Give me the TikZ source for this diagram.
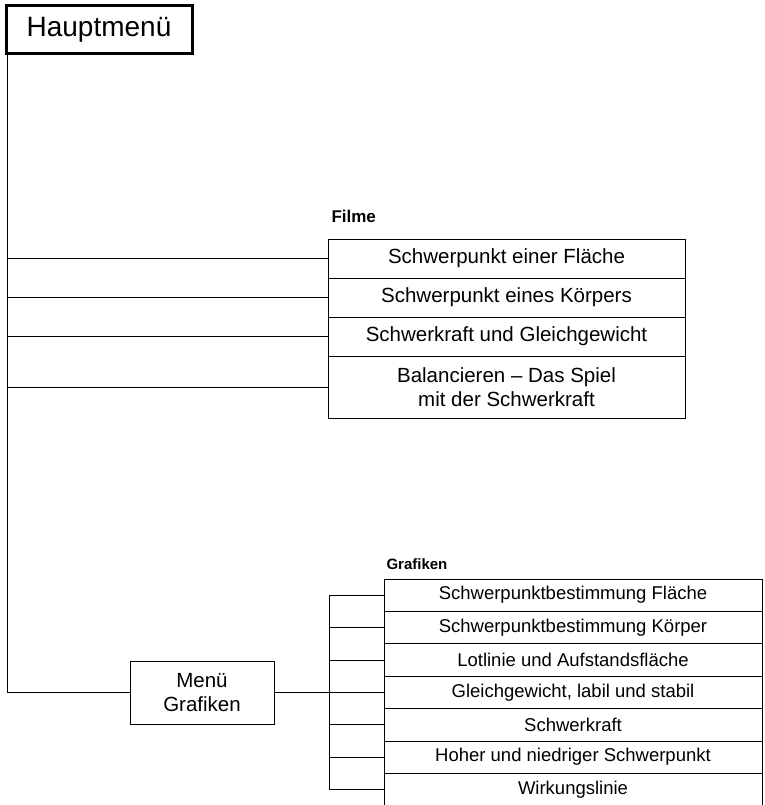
\documentclass[tikz,border=0pt]{standalone}
\usepackage{fontspec}
\setmainfont{Liberation Sans}
\begin{document}
\begin{tikzpicture}[x=1pt,y=-1pt,
  line width=1pt,
  film/.style={draw,rectangle,inner sep=0pt,minimum width=357pt,align=center,font=\fontsize{20.5}{24}\selectfont},
  graf/.style={draw,rectangle,inner sep=0pt,minimum width=378pt,minimum height=32.4pt,font=\fontsize{18.5}{22}\selectfont},
  conn/.style={draw,line width=1pt,line cap=rect},
  grouplabel/.style={anchor=base west,inner sep=0pt,font=\bfseries}
]
\useasboundingbox (0,0) rectangle (764,805);
% main menu
\node[draw,line width=3pt,rectangle,inner sep=0pt,minimum width=186pt,minimum height=48pt,
  font=\fontsize{28}{32}\selectfont] (hm) at (99,30) {Hauptmenü};
% Menü Grafiken
\node[draw,rectangle,inner sep=0pt,minimum width=144pt,minimum height=63pt,align=center,
  font=\fontsize{20.5}{23.5}\selectfont] (mg) at (202,692.5) {Menü\\Grafiken};
\coordinate (b0) at (7,55);
\coordinate (b1) at (mg.west -| b0);
% Filme
\node[grouplabel,font=\bfseries\fontsize{17}{20}\selectfont] (lf) at (331,222) {Filme};
\node[film,minimum height=39pt] (f1) at (506.5,258.5) {Schwerpunkt einer Fläche};
\node[film,minimum height=39pt] (f2) at (506.5,297.5) {Schwerpunkt eines Körpers};
\node[film,minimum height=39pt] (f3) at (506.5,336.5) {Schwerkraft und Gleichgewicht};
\node[film,minimum height=62pt] (f4) at (506.5,387) {Balancieren – Das Spiel\\mit der Schwerkraft};
\foreach \n in {f1,f2,f3,f4}{\draw[conn] (\n.west -| b0) -- (\n.west);}
\draw[conn] (b0) -- (b1) -- (mg.west);
% Grafiken
\node[grouplabel,font=\bfseries\fontsize{15}{18}\selectfont] (lg) at (386,569) {Grafiken};
\node[graf] (g1) at (573,595.2) {Schwerpunktbestimmung Fläche};
\node[graf] (g2) at (573,627.6) {Schwerpunktbestimmung Körper};
\node[graf] (g3) at (573,660.0) {Lotlinie und Aufstandsfläche};
\node[graf] (g4) at (573,692.4) {Gleichgewicht, labil und stabil};
\node[graf] (g5) at (573,724.8) {Schwerkraft};
\node[graf] (g6) at (573,757.2) {Hoher und niedriger Schwerpunkt};
\node[graf] (g7) at (573,789.6) {Wirkungslinie};
\coordinate (c0) at (329,595.2);
\coordinate (c1) at (329,789.6);
\draw[conn] (c0) -- (c1);
\draw[conn] (mg.east) -- (mg.east -| c0);
\foreach \n in {g1,g2,g3,g4,g5,g6,g7}{\draw[conn] (\n.west -| c0) -- (\n.west);}
\end{tikzpicture}
\end{document}
